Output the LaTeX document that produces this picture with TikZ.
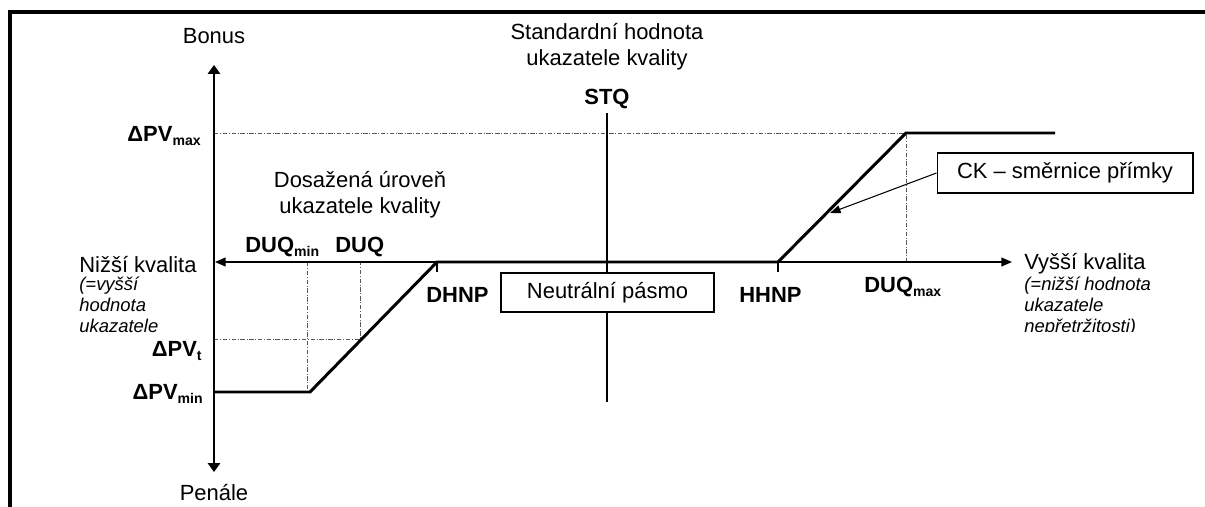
\documentclass[tikz,border=0pt]{standalone}
\usepackage{fontspec}
\setmainfont{Liberation Sans}
\usetikzlibrary{arrows.meta}
\newcommand{\lowsub}[1]{\raisebox{-2.6pt}{\fontsize{8}{8}\selectfont\bfseries #1}}
\newcommand{\dPV}[1]{\textbf{ΔPV\lowsub{#1}}}
\newcommand{\DUQ}[1]{\textbf{DUQ\lowsub{#1}}}

\begin{document}
\begin{tikzpicture}[x=0.02cm, y=-0.02cm, font=\fontsize{12.5}{14.5}\selectfont,
    every node/.style={inner sep=0pt},
    note/.style={font=\fontsize{10.5}{11.8}\selectfont\itshape, align=left, anchor=base west},
    guide/.style={line width=0.5pt, black!65, dash pattern=on 2.5pt off 1pt on 0.5pt off 1pt},
    curve/.style={line width=1.7pt, line join=miter},
    vaxis/.style={line width=0.8pt, {Triangle[length=5pt,width=7pt]}-{Triangle[length=5pt,width=7pt]}},
    haxis/.style={line width=0.8pt, {Triangle[length=6pt,width=5pt]}-{Triangle[length=6pt,width=5pt]}},
    boxed/.style={draw, line width=0.6pt, fill=white}]
  \useasboundingbox (0,0) rectangle (1205,507);
  \clip (0,0) rectangle (1205,507);
  \draw[line width=2pt] (10,520) -- (10,12) -- (1220,12);

  \coordinate (Ytop) at (214,65);
  \coordinate (Ybot) at (214,472);
  \coordinate (Xleft) at (215,262);
  \coordinate (Xright) at (1012,262);
  \coordinate (Pmin) at (214,392);
  \coordinate (Qmin) at (310,392);
  \coordinate (DHNP) at (437,262);
  \coordinate (HHNP) at (778,262);
  \coordinate (Qmax) at (906,133);
  \coordinate (Pend) at (1055,133);
  \coordinate (Pmax) at (214,133);
  \coordinate (Pt) at (214,339);
  \coordinate (Qt) at (360,339);
  \coordinate (STQtop) at (607,113);
  \coordinate (STQbot) at (607,402);
  \coordinate (CKtip) at (830,213);

  \draw[guide] (Pmax) -- (Qmax) -- (Qmax |- Xleft);
  \draw[guide] (Xleft -| 307,0) -- (307,392);
  \draw[guide] (Pt) -- (Qt) -- (Qt |- Xleft);

  \draw[vaxis] (Ybot) -- (Ytop);
  \draw[haxis] (Xleft) -- (Xright);
  \draw[line width=0.8pt] (STQtop) -- (STQbot);
  \draw[curve] (Pmin) -- (Qmin) -- (DHNP) -- (HHNP) -- (Qmax) -- (Pend);
  \draw[line width=0.6pt] (DHNP) -- ++(0,10);
  \draw[line width=0.6pt] (HHNP) -- ++(0,10);

  \node[boxed, minimum width=4.26cm, minimum height=0.78cm] (neutral) at (607.5,292.5) {Neutrální pásmo};
  \node[boxed, minimum width=5.12cm, minimum height=0.8cm] (ck) at (1065,173) {CK – směrnice přímky};
  \draw[line width=0.6pt, -{Triangle[length=6pt,width=4.5pt]}] (ck.west) -- (CKtip);

  \node (Bonus) at (214,36) {Bonus};
  \node (Penale) at (214,493) {Penále};
  \node[align=center, anchor=base] (std) at (607,65) {Standardní hodnota\\ukazatele kvality};
  \node[anchor=base] (STQ) at (607,104) {\textbf{STQ}};
  \node[align=center, anchor=base] (reached) at (360,213) {Dosažená úroveň\\ukazatele kvality};

  \node[anchor=base east] (lPmax) at (201,141) {\dPV{max}};
  \node[anchor=base east] (lPt) at (202,356) {\dPV{t}};
  \node[anchor=base east] (lPmin) at (203,399) {\dPV{min}};
  \node[anchor=base west] (lQmin) at (245,252) {\DUQ{min}};
  \node[anchor=base west] (lQ) at (335,252) {\textbf{DUQ}};
  \node[anchor=base west] (lDHNP) at (426,302) {\textbf{DHNP}};
  \node[anchor=base west] (lHHNP) at (739,302) {\textbf{HHNP}};
  \node[anchor=base west] (lQmax) at (864,292) {\DUQ{max}};

  \node[anchor=base west] (lowq) at (79,272) {Nižší kvalita};
  \node[note] (lownote) at (79,332) {(=vyšší\\hodnota\\ukazatele};
  \node[anchor=base west] (highq) at (1024,269) {Vyšší kvalita};
  \begin{scope}
    \clip (1015,275) rectangle (1205,331.5);
    \node[note] (highnote) at (1024,332) {(=nižší hodnota\\ukazatele\\nepřetržitosti)};
  \end{scope}
\end{tikzpicture}
\end{document}
